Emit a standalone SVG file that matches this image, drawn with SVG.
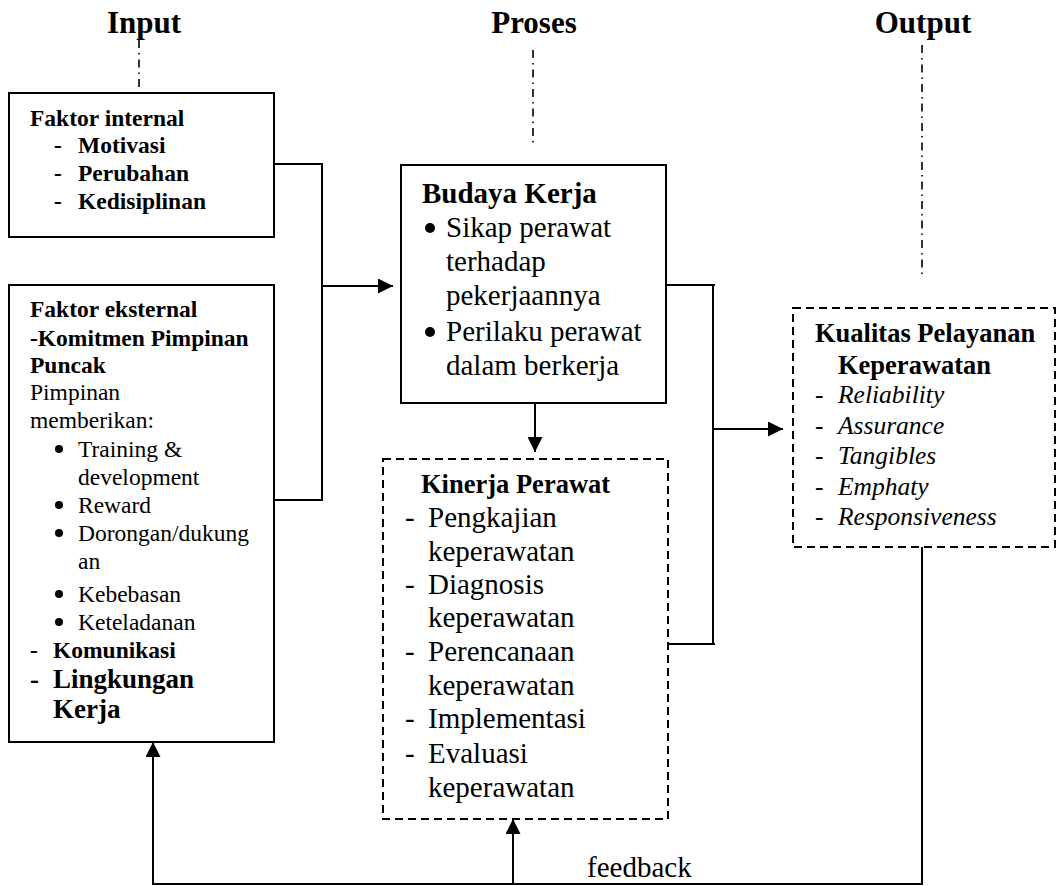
<svg xmlns="http://www.w3.org/2000/svg" width="1057" height="886" viewBox="0 0 1057 886">
<defs>
<style>
text{font-family:"Liberation Serif","Times New Roman",serif;fill:#000}
.t{font-size:31px;font-weight:bold;text-anchor:middle}
.b{font-weight:bold}
.s{font-size:23.5px}
.m{font-size:29px}
.i{font-style:italic;font-size:25.5px}
.box{fill:#fff;stroke:#000;stroke-width:2}
.dbox{fill:#fff;stroke:#000;stroke-width:2;stroke-dasharray:8 5}
.ln{fill:none;stroke:#000;stroke-width:2}
.dd{fill:none;stroke:#000;stroke-width:1.6;stroke-dasharray:8 5 1.5 5}
.bul{fill:#000}
</style>
<marker id="ah" viewBox="0 0 10 10" refX="10" refY="5" markerWidth="15" markerHeight="15" markerUnits="userSpaceOnUse" orient="auto">
<path d="M0,0 L10,5 L0,10 Z" fill="#000"/>
</marker>
</defs>

<g id="titles">
<text class="t" x="144" y="33">Input</text>
<text class="t" x="534" y="33">Proses</text>
<text class="t" x="923" y="33">Output</text>
</g>

<g id="connectors">
<path class="dd" d="M139,40 V92"/>
<path class="dd" d="M533,50 V146"/>
<path class="dd" d="M922,45 V279"/>
<path class="ln" d="M274,164 H322 V500 H274"/>
<path class="ln" d="M322,286 H393" marker-end="url(#ah)"/>
<path class="ln" d="M535,404 V452" marker-end="url(#ah)"/>
<path class="ln" d="M666,285 H715 M713,285 V644 M668,644 H715"/>
<path class="ln" d="M713,429 H783" marker-end="url(#ah)"/>
<path class="ln" d="M922,547 V884 H153 V742" marker-end="url(#ah)"/>
<path class="ln" d="M513,884 V819" marker-end="url(#ah)"/>
<text class="m" x="587" y="877" font-size="30px">feedback</text>
</g>

<g id="faktor-internal">
<rect class="box" x="9" y="93" width="265" height="144"/>
<text class="s b" x="30" y="126">Faktor internal</text>
<text class="s b" x="54" y="153">-</text><text class="s b" x="78" y="153">Motivasi</text>
<text class="s b" x="54" y="181">-</text><text class="s b" x="78" y="181">Perubahan</text>
<text class="s b" x="54" y="209">-</text><text class="s b" x="78" y="209">Kedisiplinan</text>
</g>

<g id="faktor-eksternal">
<rect class="box" x="9" y="285" width="265" height="457"/>
<text class="s b" x="30" y="317">Faktor eksternal</text>
<text class="s b" x="30" y="346">-Komitmen Pimpinan</text>
<text class="s b" x="30" y="373">Puncak</text>
<text class="s" x="30" y="400">Pimpinan</text>
<text class="s" x="30" y="428">memberikan:</text>
<circle class="bul" cx="59" cy="449" r="4"/><text class="s" x="78" y="457">Training &amp;</text>
<text class="s" x="78" y="485">development</text>
<circle class="bul" cx="59" cy="505" r="4"/><text class="s" x="78" y="513">Reward</text>
<circle class="bul" cx="59" cy="533" r="4"/><text class="s" x="78" y="541">Dorongan/dukung</text>
<text class="s" x="78" y="569">an</text>
<circle class="bul" cx="59" cy="594" r="4"/><text class="s" x="78" y="602">Kebebasan</text>
<circle class="bul" cx="59" cy="622" r="4"/><text class="s" x="78" y="630">Keteladanan</text>
<text class="s b" x="30" y="658">-</text><text class="s b" x="53" y="658">Komunikasi</text>
<text class="b" font-size="27px" x="30" y="688">-</text><text class="b" font-size="27px" x="53" y="688">Lingkungan</text>
<text class="b" font-size="27px" x="53" y="718">Kerja</text>
</g>

<g id="budaya-kerja">
<rect class="box" x="401" y="165" width="265" height="238"/>
<text class="m b" x="422" y="203">Budaya Kerja</text>
<circle class="bul" cx="430" cy="228" r="5"/><text class="m" x="446" y="237">Sikap perawat</text>
<text class="m" x="446" y="271">terhadap</text>
<text class="m" x="446" y="305">pekerjaannya</text>
<circle class="bul" cx="430" cy="332" r="5"/><text class="m" x="446" y="341">Perilaku perawat</text>
<text class="m" x="446" y="375">dalam berkerja</text>
</g>

<g id="kinerja-perawat">
<rect class="dbox" x="383" y="459" width="285" height="360"/>
<text class="b" font-size="26.5px" x="421" y="493">Kinerja Perawat</text>
<text class="m" x="405" y="527">-</text><text class="m" x="428" y="527">Pengkajian</text>
<text class="m" x="428" y="561">keperawatan</text>
<text class="m" x="405" y="594">-</text><text class="m" x="428" y="594">Diagnosis</text>
<text class="m" x="428" y="627">keperawatan</text>
<text class="m" x="405" y="661">-</text><text class="m" x="428" y="661">Perencanaan</text>
<text class="m" x="428" y="695">keperawatan</text>
<text class="m" x="405" y="728">-</text><text class="m" x="428" y="728">Implementasi</text>
<text class="m" x="405" y="763">-</text><text class="m" x="428" y="763">Evaluasi</text>
<text class="m" x="428" y="797">keperawatan</text>
</g>

<g id="kualitas-pelayanan">
<rect class="dbox" x="793" y="308" width="262" height="239"/>
<text class="b" font-size="26.5px" x="815" y="342">Kualitas Pelayanan</text>
<text class="b" font-size="26.5px" x="838" y="374">Keperawatan</text>
<text class="i" x="815" y="403" font-style="normal">-</text><text class="i" x="838" y="403">Reliability</text>
<text class="i" x="815" y="434" font-style="normal">-</text><text class="i" x="838" y="434">Assurance</text>
<text class="i" x="815" y="464" font-style="normal">-</text><text class="i" x="838" y="464">Tangibles</text>
<text class="i" x="815" y="495" font-style="normal">-</text><text class="i" x="838" y="495">Emphaty</text>
<text class="i" x="815" y="525" font-style="normal">-</text><text class="i" x="838" y="525">Responsiveness</text>
</g>
</svg>
